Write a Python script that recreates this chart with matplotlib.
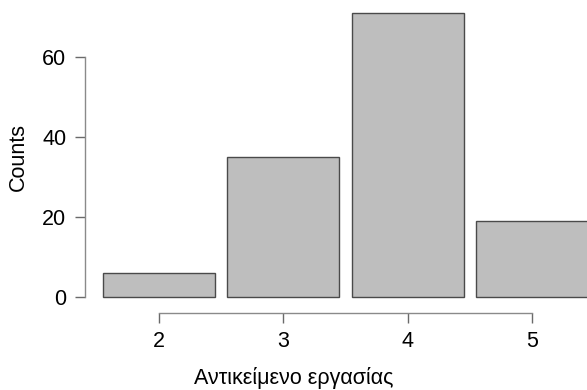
import matplotlib.pyplot as plt

plt.rcParams['font.family'] = ['Liberation Sans', 'DejaVu Sans']

categories = [2, 3, 4, 5]
counts = [6, 35, 71, 19]
y_ticks = [0, 20, 40, 60]

fig = plt.figure(figsize=(5.87, 3.90), dpi=100)
ax = fig.add_axes([0, 0, 1, 1])
ax.patch.set_alpha(0)

ax.bar(categories, counts, width=0.9, color='#bebebe', edgecolor='#4a4a4a', linewidth=1.0)

ax.set_xlim(0.721, 5.442)
ax.set_ylim(-23.25, 74.25)

for s in ['top', 'right']:
    ax.spines[s].set_visible(False)
ax.spines['left'].set_position(('data', 1.405))
ax.spines['left'].set_bounds(0, 60)
ax.spines['bottom'].set_position(('data', -3.9))
ax.spines['bottom'].set_bounds(2, 5)
for s in ['left', 'bottom']:
    ax.spines[s].set_color('#8a8a8a')
    ax.spines[s].set_linewidth(1.0)

ax.set_xticks(categories)
ax.set_xticklabels([str(c) for c in categories])
ax.set_yticks(y_ticks)
ax.tick_params(axis='both', length=7.5, width=1.0, color='#6a6a6a', labelsize=15.5, pad=6)

fig.text(0.5, 1 - 378 / 390, 'Αντικείμενο εργασίας', ha='center', va='center', fontsize=15.5)
fig.text(18 / 587, 1 - 157 / 390, 'Counts', ha='center', va='center', rotation=90, fontsize=15.5)

fig.savefig('out.png', dpi=100)
